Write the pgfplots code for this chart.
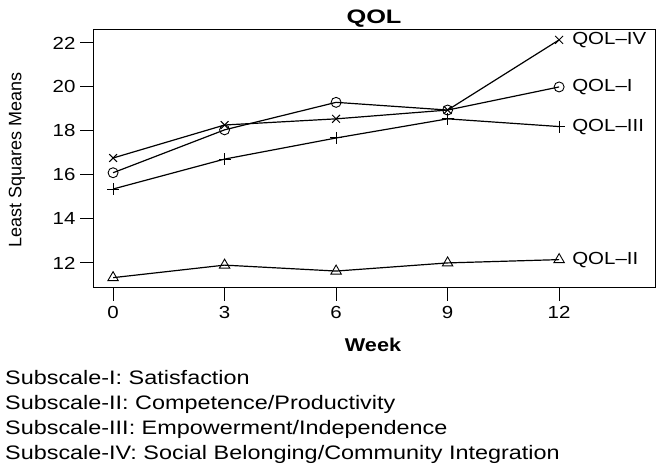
\documentclass[border=0pt]{standalone}
\usepackage{fontspec}
\setmainfont{Liberation Sans}
\newfontfamily\wide[FakeStretch=1.17]{Liberation Sans}
\newfontfamily\widetitle[FakeStretch=1.3]{Liberation Sans}
\newfontfamily\widetext[FakeStretch=1.2]{Liberation Sans}
\usepackage{pgfplots}
\pgfplotsset{compat=1.18}
\begin{document}
\begin{tikzpicture}[x=1bp,y=1bp]
\path[use as bounding box] (0,0) rectangle (660,470);
\begin{axis}[
  scale only axis, width=562bp, height=258bp,
  at={(93bp,182bp)}, anchor=south west,
  xmin=-0.54, xmax=14.58, ymin=10.86, ymax=22.59,
  xtick={0,3,6,9,12}, ytick={12,14,16,18,20,22},
  xtick pos=bottom, ytick pos=left,
  tick align=outside, major tick length=13bp,
  every tick/.style={black, line width=1bp},
  axis line style={black, line width=1bp},
  /pgf/number format/assume math mode=true,
  ticklabel style={font=\wide\fontsize{17.5bp}{19bp}\selectfont},
  xticklabel style={yshift=-2bp},
  yticklabel style={xshift=-1bp},
  clip=false,
  every axis plot/.append style={black, line width=1.2bp},
]
% QOL-I
\addplot[mark=o, mark size=5bp, mark options={line width=0.9bp}] coordinates {(0,16.1) (3,18.05) (6,19.3) (9,18.95) (12,20.0)};
% QOL-II
\addplot[mark=triangle, mark size=6bp, mark options={line width=0.9bp}] coordinates {(0,11.33) (3,11.9) (6,11.63) (9,12.0) (12,12.15)};
% QOL-III
\addplot[mark=+, mark size=6bp, mark options={line width=1bp}] coordinates {(0,15.36) (3,16.72) (6,17.68) (9,18.55) (12,18.2)};
% QOL-IV
\addplot[mark=x, mark size=5.5bp, mark options={line width=1bp}] coordinates {(0,16.77) (3,18.27) (6,18.55) (9,18.95) (12,22.14)};
\begin{scope}[every node/.style={anchor=west, font=\wide\fontsize{17.5bp}{19bp}\selectfont, inner sep=0pt}]
\node at (axis cs:12,22.14) [xshift=13bp] {QOL–IV};
\node at (axis cs:12,20.0) [xshift=13bp] {QOL–I};
\node at (axis cs:12,18.2) [xshift=13bp] {QOL–III};
\node at (axis cs:12,12.15) [xshift=13bp] {QOL–II};
\end{scope}
\end{axis}
\node[font=\widetitle\bfseries\fontsize{19.5bp}{21bp}\selectfont] at (374,451) {QOL};
\node[font=\wide\bfseries\fontsize{18.5bp}{20bp}\selectfont] at (373,125) {Week};
\node[rotate=90, font=\fontsize{18bp}{20bp}\selectfont] at (17,310) {Least Squares Means};
\begin{scope}[every node/.style={anchor=base west, inner sep=0pt, font=\widetext\fontsize{19.5bp}{22bp}\selectfont}]
\node at (5,85) {Subscale-I: Satisfaction};
\node at (5,60) {Subscale-II: Competence/Productivity};
\node at (5,35) {Subscale-III: Empowerment/Independence};
\node at (5,10) {Subscale-IV: Social Belonging/Community Integration};
\end{scope}
\end{tikzpicture}
\end{document}
